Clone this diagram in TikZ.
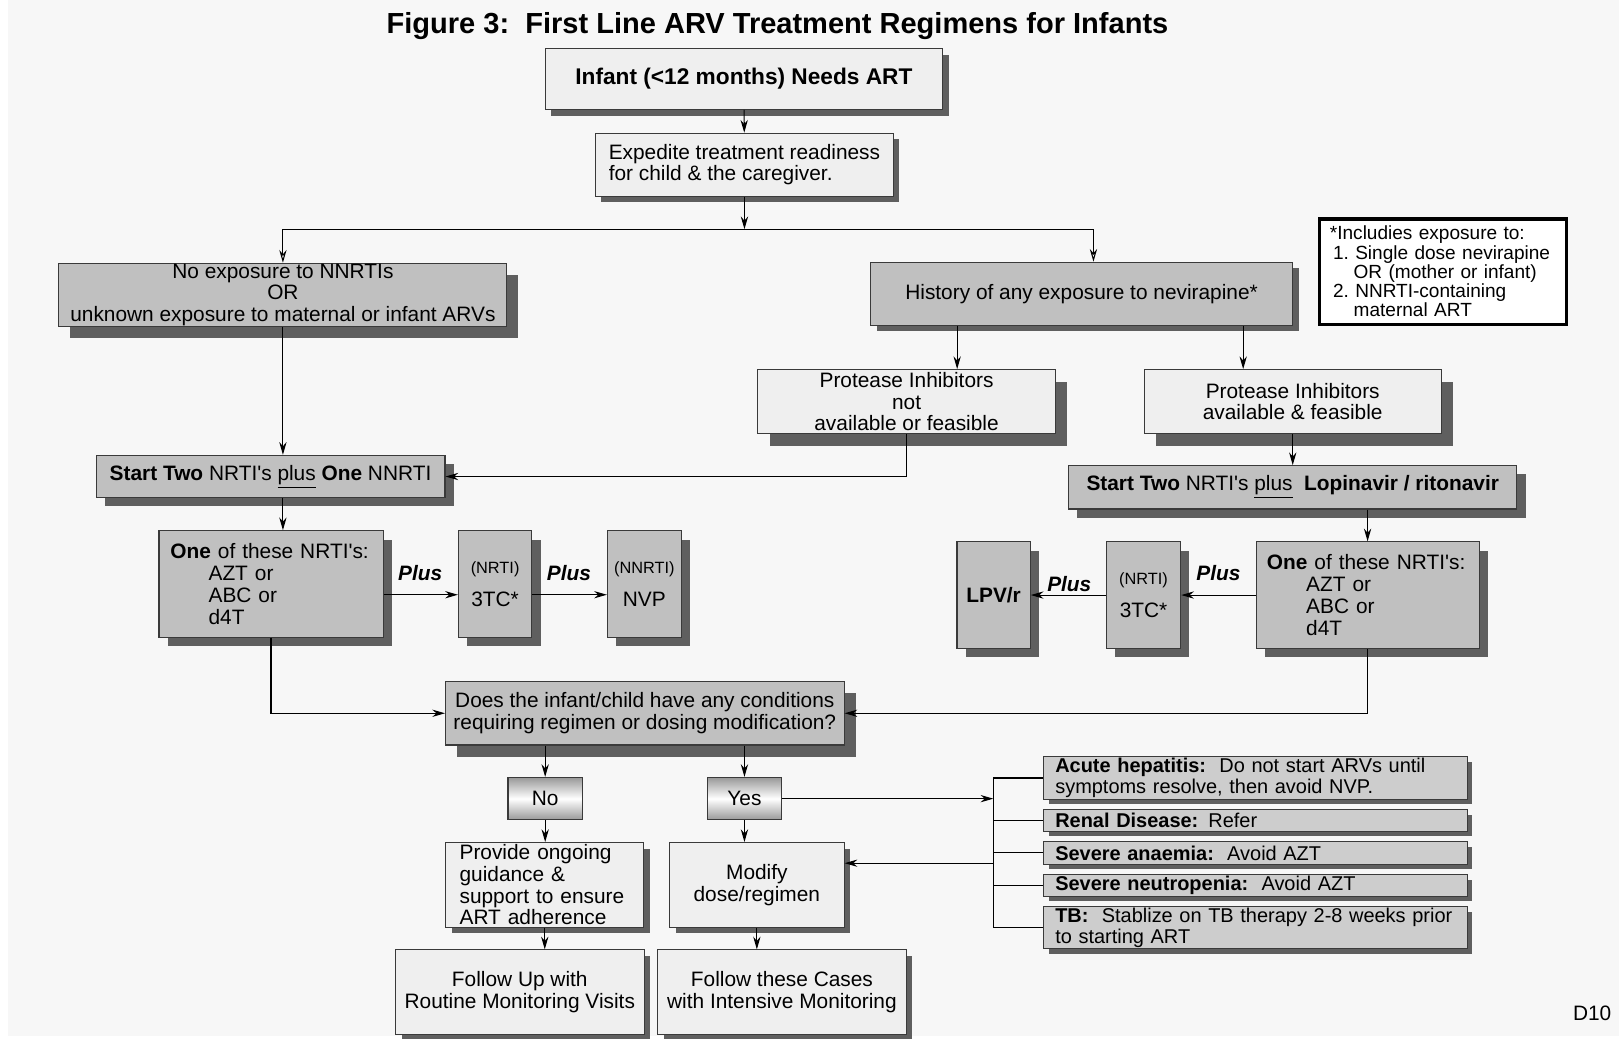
\documentclass[tikz,border=0pt]{standalone}
\usepackage{fontspec}
\setmainfont{Liberation Sans}
\usetikzlibrary{arrows.meta, positioning, shadows}

\definecolor{pagebg}{HTML}{F7F7F7}
\definecolor{lightfill}{HTML}{EFEFEF}
\definecolor{midfill}{HTML}{C0C0C0}
\definecolor{condfill}{HTML}{CDCDCD}
\definecolor{shadowgray}{HTML}{5F5F5F}
\definecolor{boxline}{HTML}{3A3A3A}

\newcommand{\bodyfont}{\fontsize{11.5}{12}\selectfont}
\newcommand{\smallfont}{\fontsize{9}{10}\selectfont}
\newcommand{\notefont}{\fontsize{10.5}{10.6}\selectfont}
\newcommand{\condfont}{\fontsize{11}{11.9}\selectfont}
\newcommand{\apos}{\textquotesingle}

\begin{document}
\begin{tikzpicture}[x=0.02cm, y=-0.02cm, font=\bodyfont,
    box/.style={rectangle, draw=boxline, line width=0.6pt, inner sep=0pt, align=center},
    light/.style={box, fill=lightfill},
    dark/.style={box, fill=midfill},
    shad/.style={drop shadow={shadow xshift=#1, shadow yshift=-#1, fill=shadowgray, opacity=1}},
    pick/.style={box, top color=gray!80, bottom color=gray!80, middle color=white},
    cond/.style={box, fill=condfill, align=left, font=\condfont, minimum width=8.2cm,
        text width=7.76cm, inner xsep=0.22cm, shad=0.1cm},
    plus/.style={font=\bodyfont\bfseries\itshape},
    arr/.style={-{Stealth[length=7pt, width=4pt]}, line width=0.6pt},
    oarr/.style={-{Stealth[open, length=7pt, width=4pt]}, line width=0.6pt},
    link/.style={line width=0.6pt}
]
    \useasboundingbox (0,0) rectangle (1568,1006);
    \fill[white] (0,0) rectangle (1568,1006);
    \fill[pagebg] (8,0) rectangle (1568,1003);

    % title and start
    \node[font=\fontsize{16}{18}\selectfont\bfseries] (title) at (753,25)
        {Figure 3:\ \ First Line ARV Treatment Regimens for Infants};
    \node[light, shad=0.12cm, font=\fontsize{12.5}{14}\selectfont\bfseries,
        minimum width=7.7cm, minimum height=1.18cm] (start) at (720.5,76.5)
        {Infant (<12 months) Needs ART};
    \node[light, shad=0.11cm, minimum width=5.76cm, minimum height=1.22cm, align=left]
        (expedite) at (721,159.5) {Expedite treatment readiness\\for child \& the caregiver.};

    % exposure
    \node[dark, shad=0.22cm, font=\fontsize{11.5}{11.7}\selectfont, minimum width=8.68cm,
        minimum height=1.22cm] (noexp) at (274,285.5)
        {No exposure to NNRTIs\\OR\\unknown exposure to maternal or infant ARVs};
    \node[dark, shad=0.12cm, minimum width=8.18cm, minimum height=1.22cm] (hist) at (1047.5,284.5)
        {History of any exposure to nevirapine*};
    \node[draw=black, line width=1.8pt, fill=white, font=\notefont, align=left,
        text width=4.38cm, inner xsep=0.2cm, minimum height=2.04cm] (note) at (1397.5,263)
        {*Includies exposure to:\\\hspace*{0.06cm}1.~Single dose nevirapine\\\hspace*{0.46cm}OR (mother or infant)\\\hspace*{0.06cm}2.~NNRTI-containing\\\hspace*{0.46cm}maternal ART};

    % protease inhibitors
    \node[light, shad=0.23cm, font=\fontsize{11.5}{11.7}\selectfont, minimum width=5.76cm,
        minimum height=1.24cm] (pinot) at (878,389)
        {Protease Inhibitors\\not\\available or feasible};
    \node[light, shad=0.23cm, minimum width=5.76cm, minimum height=1.24cm] (piyes) at (1252,389)
        {Protease Inhibitors\\available \& feasible};

    % left regimen
    \node[dark, shad=0.17cm, minimum width=6.76cm, minimum height=0.82cm] (startA) at (262,461.5)
        {\textbf{Start Two} NRTI\apos s \underline{plus} \textbf{One} NNRTI};
    \node[dark, shad=0.17cm, minimum width=4.34cm, minimum height=2.06cm, align=left,
        text width=3.9cm, inner xsep=0.22cm] (oneA) at (262.5,565.5)
        {\textbf{One} of these NRTI\apos s:\\\hspace*{0.74cm}AZT or\\\hspace*{0.74cm}ABC or\\\hspace*{0.74cm}d4T};
    \node[dark, shad=0.17cm, minimum width=1.42cm, minimum height=2.06cm] (triA) at (479.5,565.5)
        {{\smallfont (NRTI)}\\[6pt]3TC*};
    \node[dark, shad=0.17cm, minimum width=1.43cm, minimum height=2.06cm] (nvp) at (624,565.5)
        {{\smallfont (NNRTI)}\\[6pt]NVP};
    \node[plus] (plusA) at (407,555) {Plus};
    \node[plus] (plusB) at (551,555) {Plus};

    % right regimen
    \node[dark, shad=0.17cm, minimum width=8.68cm, minimum height=0.84cm] (startB) at (1252,472)
        {\textbf{Start Two} NRTI\apos s \underline{plus}\ \ \textbf{Lopinavir / ritonavir}};
    \node[dark, shad=0.17cm, minimum width=4.32cm, minimum height=2.06cm, align=left,
        text width=3.9cm, inner xsep=0.21cm] (oneB) at (1324.5,576.3)
        {\textbf{One} of these NRTI\apos s:\\\hspace*{0.76cm}AZT or\\\hspace*{0.76cm}ABC or\\\hspace*{0.76cm}d4T};
    \node[dark, shad=0.17cm, minimum width=1.44cm, minimum height=2.06cm] (triB) at (1107.5,576.3)
        {{\smallfont (NRTI)}\\[6pt]3TC*};
    \node[dark, shad=0.17cm, minimum width=1.42cm, minimum height=2.06cm] (lpv) at (962.3,576.3)
        {\textbf{LPV/r}};
    \node[plus] (plusC) at (1180,555) {Plus};
    \node[plus] (plusD) at (1035.6,565.7) {Plus};

    % question and outcomes
    \node[dark, shad=0.23cm, minimum width=7.72cm, minimum height=1.23cm] (question) at (624.5,690.8)
        {Does the infant/child have any conditions\\requiring regimen or dosing modification?};
    \node[pick, minimum width=1.44cm, minimum height=0.82cm] (no) at (528,773.5) {No};
    \node[pick, minimum width=1.44cm, minimum height=0.82cm] (yes) at (721,773.5) {Yes};
    \node[light, shad=0.12cm, minimum width=3.84cm, minimum height=1.64cm, align=left,
        text width=3.3cm, inner xsep=0.27cm] (provide) at (527.6,857)
        {Provide ongoing\\guidance \&\\support to ensure\\ART adherence};
    \node[light, shad=0.12cm, minimum width=3.38cm, minimum height=1.64cm] (modify) at (733,857)
        {Modify\\dose/regimen};
    \node[light, shad=0.12cm, minimum width=4.82cm, minimum height=1.64cm] (followA) at (503.4,961)
        {Follow Up with\\Routine Monitoring Visits};
    \node[light, shad=0.12cm, minimum width=4.81cm, minimum height=1.64cm] (followB) at (757.3,961)
        {Follow these Cases\\with Intensive Monitoring};

    % conditions
    \node[cond, minimum height=0.82cm] (acute) at (1216,753.5)
        {\mbox{\textbf{Acute hepatitis:}\ \ Do not start ARVs until}\\symptoms resolve, then avoid NVP.};
    \node[cond, minimum height=0.42cm] (renal) at (1216,794.5) {\textbf{Renal Disease:} Refer};
    \node[cond, minimum height=0.44cm] (anaemia) at (1216,826) {\textbf{Severe anaemia:}\ \ Avoid AZT};
    \node[cond, minimum height=0.42cm] (neutro) at (1216,857.5) {\textbf{Severe neutropenia:}\ \ Avoid AZT};
    \node[cond, minimum height=0.82cm] (tb) at (1216,898.5)
        {\mbox{\textbf{TB:}\ \ Stablize on TB therapy 2-8 weeks prior}\\to starting ART};

    \node (tag) at (1542,981) {D10};

    % connectors
    \coordinate (split) at (721,222);
    \coordinate (splitL) at (274,222);
    \coordinate (splitR) at (1059,222);
    \coordinate (pa) at (927,0);
    \coordinate (pb) at (1204,0);
    \coordinate (rowA) at (0,576);
    \coordinate (brk) at (962,0);
    \coordinate (back) at (962,836);

    \draw[arr] (start) -- (expedite);
    \draw[arr] (expedite) -- (split);
    \draw[link] (splitL) -- (splitR);
    \draw[oarr] (splitL) -- (noexp);
    \draw[oarr] (splitR) -- (hist.north -| splitR);
    \draw[arr] (hist.south -| pa) -- (pinot.north -| pa);
    \draw[arr] (hist.south -| pb) -- (piyes.north -| pb);

    \draw[arr] (noexp) -- (noexp |- startA.north);
    \draw[arr] (pinot) |- (startA);
    \draw[arr] (startA.south -| noexp) -- (oneA.north -| noexp);
    \draw[arr] (oneA.east |- rowA) -- (triA.west |- rowA);
    \draw[arr] (triA.east |- rowA) -- (nvp.west |- rowA);

    \draw[arr] (piyes) -- (startB);
    \draw[arr] (startB.south -| oneB) -- (oneB);
    \draw[arr] (oneB) -- (triB);
    \draw[arr] (triB) -- (lpv);

    \draw[arr] (oneA) |- (question);
    \draw[arr] (oneB) |- (question);
    \draw[arr] (question.south -| no) -- (no);
    \draw[arr] (question.south -| yes) -- (yes);
    \draw[arr] (no) -- (no |- provide.north);
    \draw[arr] (yes) -- (yes |- modify.north);
    \draw[arr] (provide) -- (provide |- followA.north);
    \draw[arr] (modify) -- (modify |- followB.north);

    \draw[arr] (yes) -- (yes -| brk);
    \draw[link] (acute.west -| brk) -- (tb.west -| brk);
    \foreach \c in {acute, renal, anaemia, neutro, tb}
        \draw[link] (\c.west -| brk) -- (\c.west);
    \draw[arr] (back) -- (back -| modify.east);
\end{tikzpicture}
\end{document}
